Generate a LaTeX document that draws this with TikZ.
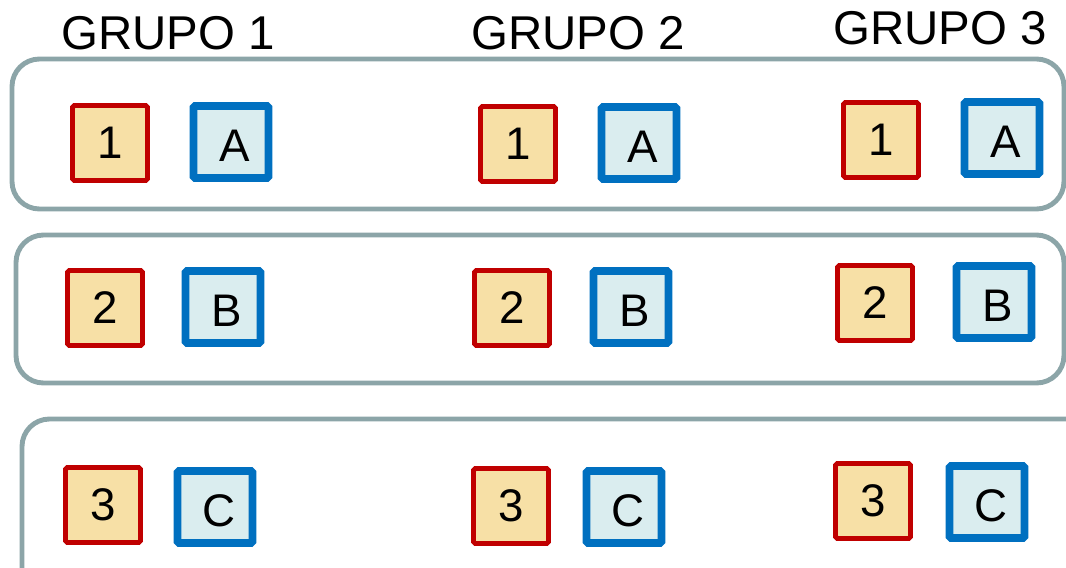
\documentclass[tikz,border=0pt]{standalone}
\usepackage{fontspec}
\setmainfont{Liberation Sans}
\definecolor{rojo}{HTML}{C00000}
\definecolor{crema}{HTML}{F7E0A6}
\definecolor{azul}{HTML}{0070C0}
\definecolor{celeste}{HTML}{DAEDEF}
\definecolor{gris}{HTML}{8CA5A8}
\newcommand{\letra}[1]{\kern4.5pt\raisebox{-2.3pt}[\height][\depth]{#1}}

\tikzset{
  numbox/.style={draw=rojo,fill=crema,line width=2.8pt,rounded corners=1pt,
    minimum width=1.5cm,minimum height=1.5cm,inner sep=0pt,font=\fontsize{26}{28}\selectfont},
  letbox/.style={draw=azul,fill=celeste,line width=4.5pt,rounded corners=1pt,
    minimum width=1.5cm,minimum height=1.44cm,inner sep=0pt,font=\fontsize{26}{28}\selectfont},
  banda/.style={draw=gris,line width=2.8pt,rounded corners=0.55cm},
  grupo/.style={inner sep=0pt,font=\fontsize{27}{29}\selectfont}
}

\begin{document}
\begin{tikzpicture}[x=0.02cm,y=-0.02cm]
\useasboundingbox (0,0) rectangle (1066,568);
\clip (0,0) rectangle (1066,568);
% filas
\draw[banda] (12,59) rectangle (1064,209);
\draw[banda] (16,235) rectangle (1064,383);
\draw[banda] (22,419) rectangle (1100,620);
% titulos
\node[grupo] (g1) at (168,33) {GRUPO 1};
\node[grupo] (g2) at (578,33) {GRUPO 2};
\node[grupo] (g3) at (940,28) {GRUPO 3};
% cajas
\foreach \r/\g/\x/\y in {1/1/110/143, 1/2/518/144, 1/3/881/140,
    2/1/105/308, 2/2/512/308, 2/3/875/303,
    3/1/103/505, 3/2/511/506, 3/3/873/501}
    \node[numbox] (n\r\g) at (\x,\y) {\r};
\foreach \r/\g/\t/\x/\y in {1/1/A/231/142, 1/2/A/639/143, 1/3/A/1002/138,
    2/1/B/223/307, 2/2/B/631/307, 2/3/B/994/302,
    3/1/C/215/507, 3/2/C/624/507, 3/3/C/987/502}
    \node[letbox] (l\r\g) at (\x,\y) {\letra{\t}};
\end{tikzpicture}
\end{document}
